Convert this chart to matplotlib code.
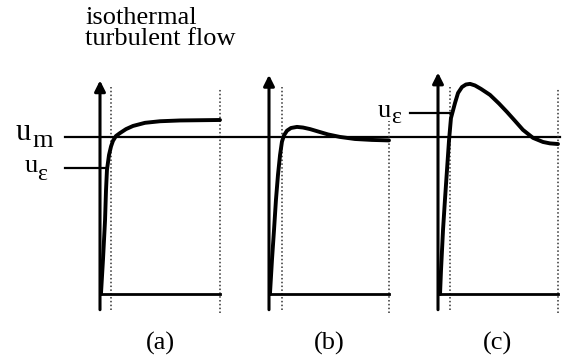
import matplotlib.pyplot as plt

plt.rcParams['font.family'] = ['Liberation Serif', 'DejaVu Serif']

# curves: t = time from the axis (0) to the right dotted line (1), u in units of u_m
t_a = [0.008, 0.025, 0.042, 0.05, 0.058, 0.075, 0.092, 0.108, 0.133, 0.167,
       0.217, 0.275, 0.375, 0.5, 0.667, 1.0]
u_a = [0.0, 0.22, 0.47, 0.66, 0.79, 0.885, 0.94, 0.975, 1.006, 1.025,
       1.05, 1.07, 1.09, 1.10, 1.105, 1.108]

t_b = [0.008, 0.025, 0.042, 0.058, 0.075, 0.092, 0.108, 0.125, 0.15, 0.183,
       0.233, 0.283, 0.342, 0.408, 0.492, 0.592, 0.717, 0.858, 1.0]
u_b = [0.0, 0.22, 0.41, 0.60, 0.76, 0.885, 0.97, 1.01, 1.04, 1.057,
       1.064, 1.06, 1.05, 1.035, 1.016, 1.0, 0.987, 0.981, 0.978]

t_c = [0.017, 0.025, 0.042, 0.058, 0.075, 0.092, 0.108, 0.142, 0.167, 0.2,
       0.233, 0.267, 0.308, 0.358, 0.433, 0.508, 0.575, 0.642, 0.708, 0.792,
       0.875, 0.933, 1.0]
u_c = [0.0, 0.15, 0.41, 0.60, 0.79, 0.98, 1.12, 1.217, 1.28, 1.318,
       1.334, 1.338, 1.328, 1.306, 1.268, 1.213, 1.159, 1.102, 1.045, 0.994,
       0.968, 0.959, 0.955]

U_M = 1.0
u_eps_a = 0.80
u_eps_c = 1.15

panel_labels = ['(a)', '(b)', '(c)']
curves = [(t_a, u_a), (t_b, u_b), (t_c, u_c)]

# pixel layout
W, H = 572, 360
axis_px = [100, 269, 438]
arrow_top = [1.36, 1.395, 1.41]
dot_left = [0.09, 0.107, 0.10]
dot_right_top = [1.31, 1.10, 1.31]

fig = plt.figure(figsize=(W / 100, H / 100), dpi=100)
axes = []
for i in range(3):
    left = axis_px[i] - 90
    ax = fig.add_axes([left / W, 45 / H, 240 / W, 255 / H])
    ax.set_xlim(-0.75, 1.25)
    ax.set_ylim(-0.1338, 1.490)
    ax.axis('off')
    axes.append(ax)

    t, u = curves[i]
    # vertical axis with arrow
    ax.annotate('', xy=(0, arrow_top[i]), xytext=(0, -0.1),
                arrowprops=dict(arrowstyle='-|>', lw=2.2, color='k',
                                mutation_scale=16, shrinkA=0, shrinkB=0))
    # dotted guide lines
    ax.plot([dot_left[i], dot_left[i]], [-0.1, 1.32], color='#333333',
            lw=1.1, ls=(0, (1, 1.5)))
    ax.plot([1, 1], [-0.12, dot_right_top[i]], color='#333333',
            lw=1.1, ls=(0, (1, 1.5)))
    # bottom line
    ax.plot([0, 1], [0, 0], color='k', lw=2)
    # velocity curve
    ax.plot(t, u, color='k', lw=2.8, solid_capstyle='round',
            solid_joinstyle='round', clip_on=False)
    ax.text(0.5, -0.318, panel_labels[i], ha='center', va='center', fontsize=19)

ax_a, ax_b, ax_c = axes

# u_m reference line across all panels
ax_a.plot([-0.29, 3.83], [U_M, U_M], color='k', lw=1.6, clip_on=False)
ax_a.text(-0.708, 0.981, 'u', ha='left', va='baseline', fontsize=22)
ax_a.text(-0.56, 0.935, 'm', ha='left', va='baseline', fontsize=19)

# u_eps markers
ax_a.plot([-0.29, 0.06], [u_eps_a, u_eps_a], color='k', lw=1.6)
ax_a.text(-0.625, 0.777, 'u', ha='left', va='baseline', fontsize=19)
ax_a.text(-0.52, 0.726, 'ε', ha='left', va='baseline', fontsize=17)
ax_c.plot([-0.233, 0.11], [u_eps_c, u_eps_c], color='k', lw=1.6)
ax_c.text(-0.5, 1.127, 'u', ha='left', va='baseline', fontsize=19)
ax_c.text(-0.39, 1.09, 'ε', ha='left', va='baseline', fontsize=17)

ax_a.text(-0.125, 1.83, 'isothermal\nturbulent flow', ha='left', va='top',
          fontsize=19, linespacing=0.95)

fig.savefig('out.png', dpi=100)
